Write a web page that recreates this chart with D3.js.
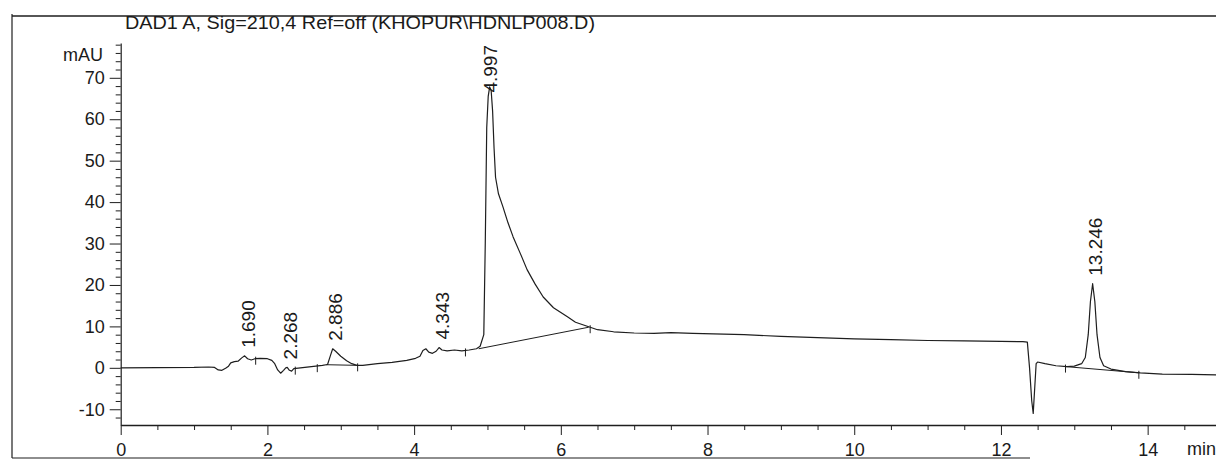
<!DOCTYPE html>
<html>
<head>
<meta charset="utf-8">
<script src="https://cdn.jsdelivr.net/npm/d3@7"></script>
<style>
  html, body { margin: 0; padding: 0; background: #fff; }
  svg { display: block; }
  text { font-family: "Liberation Sans", Arial, sans-serif; fill: #1a1a1a; }
</style>
</head>
<body>
<svg id="chart" width="1216" height="463"></svg>
<script>
// ---------------- data ----------------
const title = "DAD1 A, Sig=210,4 Ref=off (KHOPUR\\HDNLP008.D)";
const yUnit = "mAU";
const xUnit = "min";
const xTickLabels = [0, 2, 4, 6, 8, 10, 12, 14];
const yTickLabels = [-10, 0, 10, 20, 30, 40, 50, 60, 70];

// chromatogram trace [time (min), absorbance (mAU)]
const traceTime = [
  0, 0.5, 1.0, 1.2, 1.28, 1.33, 1.38, 1.43, 1.47, 1.5, 1.55, 1.6, 1.65, 1.69, 1.73, 1.78, 1.83, 1.9, 2.0, 2.06,
  2.1, 2.14, 2.18, 2.22, 2.25, 2.27, 2.3, 2.33, 2.36, 2.45, 2.6, 2.75, 2.82, 2.86, 2.89, 2.93, 3.0, 3.08, 3.15, 3.22,
  3.3, 3.5, 3.7, 3.9, 4.02, 4.08, 4.12, 4.16, 4.2, 4.25, 4.3, 4.34, 4.38, 4.45, 4.55, 4.65, 4.75, 4.85, 4.9, 4.95,
  4.97, 4.99, 5.01, 5.03, 5.05, 5.07, 5.09, 5.11, 5.15, 5.21, 5.28, 5.35, 5.45, 5.54, 5.65, 5.76, 5.9, 6.09, 6.2, 6.38,
  6.5, 6.72, 7.0, 7.27, 7.5, 7.8, 8.5, 9.0, 9.5, 10.0, 10.5, 11.0, 11.5, 12.0, 12.3, 12.36, 12.39, 12.42, 12.44, 12.46,
  12.48, 12.5, 12.6, 12.75, 12.9, 13.0, 13.1, 13.15, 13.19, 13.22, 13.25, 13.28, 13.31, 13.35, 13.4, 13.5, 13.7, 13.9, 14.2, 14.6,
  15.0
];
const traceValue = [
  0, 0.05, 0.1, 0.2, 0.1, -0.5, -0.6, -0.1, 0.4, 1.2, 1.5, 1.6, 2.4, 2.9, 2.2, 1.9, 2.2, 2.3, 2.2, 1.8,
  1.0, -0.5, -1.3, -0.6, 0.0, 0.1, -0.6, -0.8, -0.2, 0.0, 0.3, 0.6, 0.8, 3.0, 4.6, 4.0, 2.8, 1.7, 1.0, 0.6,
  0.6, 1.0, 1.3, 1.8, 2.3, 2.8, 4.2, 4.6, 3.8, 3.5, 4.0, 4.9, 4.3, 4.1, 4.3, 4.1, 4.3, 4.6, 5.2, 8,
  30, 58, 65.5, 67.8, 67, 62, 53, 46, 42, 38.9, 35, 31.6, 27.5, 23.7, 20.2, 17.1, 14.5, 12.3, 11.0, 9.9,
  9.2, 8.7, 8.4, 8.3, 8.5, 8.3, 8.0, 7.6, 7.3, 7.0, 6.8, 6.6, 6.5, 6.4, 6.3, 6.2, 0, -8, -11, -5,
  1.0, 1.4, 1.0, 0.5, 0.3, 0.4, 1.0, 2.5, 8, 16, 20.3, 16, 8, 2.5, 0.5, -0.3, -0.9, -1.2, -1.5, -1.6,
  -1.7
];

// labelled peaks
const peakTimes = [1.690, 2.268, 2.886, 4.343, 4.997, 13.246];
const peakHeights = [2.9, 0.1, 4.6, 4.9, 67.8, 20.3];
const peakLabels = ["1.690", "2.268", "2.886", "4.343", "4.997", "13.246"];

// integration baselines (start/end) and baseline event marks
const baselineStartT = [2.80, 4.88, 12.88];
const baselineStartV = [0.75, 4.6, 0.3];
const baselineEndT = [3.22, 6.38, 13.88];
const baselineEndV = [0.6, 9.8, -1.2];
const markTimes = [1.84, 2.38, 2.68, 3.23, 4.70, 6.40, 12.88, 13.88];
const markValues = [2.2, -0.2, 0.4, 0.6, 4.2, 9.8, 0.3, -1.2];

// ---------------- drawing ----------------
const svg = d3.select("#chart");
const ink = "#1e1e1e";
const fmt = d => String(d); // plain hyphen-minus as in the report

const x = d3.scaleLinear().domain([0, 15]).range([120.7, 1221]);
const y = d3.scaleLinear().domain([-13.8, 78.4]).range([425, 43]);

// report frame
svg.append("line").attr("x1", 12).attr("x2", 12).attr("y1", 14).attr("y2", 458)
  .attr("stroke", ink).attr("stroke-width", 1.2);
svg.append("line").attr("x1", 12).attr("x2", 1216).attr("y1", 16).attr("y2", 16)
  .attr("stroke", ink).attr("stroke-width", 1.6);
svg.append("line").attr("x1", 12).attr("x2", 1030).attr("y1", 458).attr("y2", 458)
  .attr("stroke", ink).attr("stroke-width", 1.2);

// title
svg.append("text").attr("x", 125).attr("y", 28.5)
  .attr("font-size", 18.5).attr("textLength", 470).attr("lengthAdjust", "spacingAndGlyphs")
  .text(title);

// y axis minor ticks
const yMinor = d3.range(-12, 79, 2).filter(v => v % 10 !== 0);
svg.append("g").attr("transform", `translate(${x(0)},0)`)
  .call(d3.axisLeft(y).tickValues(yMinor).tickSize(5).tickFormat("").tickSizeOuter(0))
  .call(g => g.select(".domain").remove())
  .call(g => g.selectAll("line").attr("stroke", ink));
// y axis major
svg.append("g").attr("transform", `translate(${x(0)},0)`)
  .call(d3.axisLeft(y).tickValues(yTickLabels).tickFormat(fmt).tickSize(11).tickPadding(5).tickSizeOuter(0))
  .call(g => g.select(".domain").attr("stroke", ink).attr("stroke-width", 1.2))
  .call(g => g.selectAll("line").attr("stroke", ink))
  .call(g => g.selectAll("text").attr("font-size", 18).attr("font-family", "Liberation Sans, Arial, sans-serif").attr("fill", ink));

svg.append("text").attr("x", 103).attr("y", 61).attr("text-anchor", "end")
  .attr("font-size", 18).text(yUnit);

// x axis minor ticks
const xMinor = d3.range(0.5, 15.01, 0.5).filter(v => v % 2 !== 0);
svg.append("g").attr("transform", `translate(0,${y.range()[0]})`)
  .call(d3.axisBottom(x).tickValues(xMinor).tickSize(5).tickFormat("").tickSizeOuter(0))
  .call(g => g.select(".domain").remove())
  .call(g => g.selectAll("line").attr("stroke", ink));
// x axis major
svg.append("g").attr("transform", `translate(0,${y.range()[0]})`)
  .call(d3.axisBottom(x).tickValues(xTickLabels).tickFormat(fmt).tickSize(10).tickPadding(8).tickSizeOuter(0))
  .call(g => g.select(".domain").attr("stroke", ink).attr("stroke-width", 1.4))
  .call(g => g.selectAll("line").attr("stroke", ink))
  .call(g => g.selectAll("text").attr("font-size", 18).attr("font-family", "Liberation Sans, Arial, sans-serif").attr("fill", ink));

svg.append("text").attr("x", 1187).attr("y", 455).attr("font-size", 18).text(xUnit);

// integration baselines
const baselines = baselineStartT.map((t, i) => [[t, baselineStartV[i]], [baselineEndT[i], baselineEndV[i]]]);
svg.append("g").selectAll("line").data(baselines).join("line")
  .attr("x1", d => x(d[0][0])).attr("y1", d => y(d[0][1]))
  .attr("x2", d => x(d[1][0])).attr("y2", d => y(d[1][1]))
  .attr("stroke", ink).attr("stroke-width", 1);

// trace
const trace = traceTime.map((t, i) => [t, traceValue[i]]);
svg.append("path").datum(trace)
  .attr("fill", "none").attr("stroke", ink).attr("stroke-width", 1.2)
  .attr("stroke-linejoin", "round")
  .attr("d", d3.line().x(d => x(d[0])).y(d => y(d[1])));

// baseline event marks
const marks = markTimes.map((t, i) => [t, markValues[i]]);
svg.append("g").selectAll("line").data(marks).join("line")
  .attr("x1", d => x(d[0])).attr("x2", d => x(d[0]))
  .attr("y1", d => y(d[1]) - 2).attr("y2", d => y(d[1]) + 6)
  .attr("stroke", ink).attr("stroke-width", 1);

// peak labels (rotated), kept inside the plot area like the report does
const plotTop = y.range()[1];
const peaks = peakTimes.map((t, i) => ({ t, h: peakHeights[i], label: peakLabels[i] }));
svg.append("g").selectAll("text").data(peaks).join("text")
  .attr("dy", "0.36em")
  .attr("font-size", 19)
  .text(d => d.label)
  .each(function (d) {
    const len = this.getComputedTextLength();
    let bottom = y(d.h) - 8;
    if (bottom - len < plotTop + 2) bottom = plotTop + 2 + len;
    d3.select(this).attr("transform", `translate(${x(d.t) + 3},${bottom}) rotate(-90)`);
  });
</script>
</body>
</html>
